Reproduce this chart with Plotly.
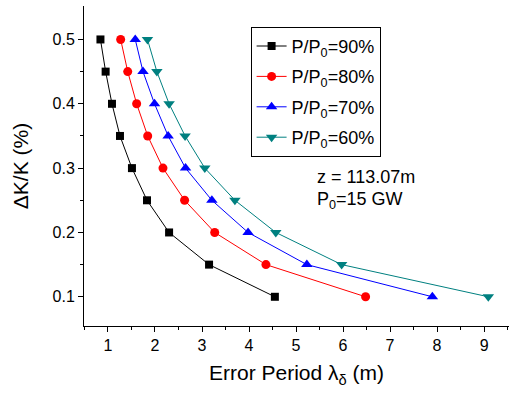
import plotly.graph_objects as go

dk = [0.5, 0.45, 0.4, 0.35, 0.3, 0.25, 0.2, 0.15, 0.1]
p90 = [0.84, 0.95, 1.085, 1.255, 1.51, 1.83, 2.30, 3.15, 4.55]
p80 = [1.27, 1.42, 1.61, 1.845, 2.17, 2.63, 3.27, 4.36, 6.48]
p70 = [1.58, 1.745, 1.99, 2.28, 2.65, 3.21, 3.98, 5.23, 7.90]
p60 = [1.84, 2.04, 2.30, 2.64, 3.06, 3.70, 4.57, 5.97, 9.09]

names = ["P/P<sub>0</sub>=90%", "P/P<sub>0</sub>=80%", "P/P<sub>0</sub>=70%", "P/P<sub>0</sub>=60%"]
series = [p90, p80, p70, p60]
colors = ["#000000", "#FF0000", "#0000FF", "#008080"]
symbols = ["square", "circle", "triangle-up", "triangle-down"]
msizes = [8, 9, 10, 10]

FONT = "Liberation Sans, Arial, sans-serif"

fig = go.Figure()
for i, (nm, xs) in enumerate(zip(names, series)):
    fig.add_trace(go.Scatter(
        x=xs, y=dk, mode="lines+markers", name=nm,
        legendgroup=f"g{i}",
        line=dict(color=colors[i], width=1),
        marker=dict(symbol=symbols[i], size=msizes[i], color=colors[i], line=dict(width=0)),
    ))

fig.update_layout(
    width=514, height=405,
    margin=dict(l=84, r=5, t=6, b=79),
    paper_bgcolor="white", plot_bgcolor="white",
    font=dict(family=FONT, color="black", size=16),
    showlegend=True,
    legend=dict(
        x=0.392, y=0.935, xanchor="left", yanchor="top",
        bordercolor="black", borderwidth=1, bgcolor="white",
        font=dict(family=FONT, size=18, color="black"),
        tracegroupgap=4, traceorder="grouped",
        itemwidth=30,
    ),
    xaxis=dict(
        range=[0.49, 9.53], tickvals=[1, 2, 3, 4, 5, 6, 7, 8, 9],
        showgrid=False, zeroline=False, showline=True, linecolor="black", linewidth=1,
        ticks="outside", ticklen=5, tickcolor="black", tickwidth=1,
        minor=dict(tickvals=[0.5, 1.5, 2.5, 3.5, 4.5, 5.5, 6.5, 7.5, 8.5, 9.5], ticks="outside", ticklen=3, tickcolor="black"),
        tickfont=dict(size=16),
        ticklabelstandoff=0,
        title=dict(text="Error Period λ<sub>δ</sub> (m)", font=dict(size=21), standoff=12),
    ),
    yaxis=dict(
        range=[0.0546, 0.552], tickvals=[0.1, 0.2, 0.3, 0.4, 0.5],
        ticktext=["0.1", "0.2", "0.3", "0.4", "0.5"],
        showgrid=False, zeroline=False, showline=True, linecolor="black", linewidth=1,
        ticks="outside", ticklen=5, tickcolor="black", tickwidth=1,
        minor=dict(tickvals=[0.15, 0.25, 0.35, 0.45], ticks="outside", ticklen=3, tickcolor="black"),
        tickfont=dict(size=16),
        title=dict(text="ΔK/K (%)", font=dict(size=21), standoff=18),
    ),
    annotations=[
        dict(text="z = 113.07m", x=0.543, y=0.465, xref="paper", yref="paper",
             xanchor="left", yanchor="middle", showarrow=False, font=dict(size=18)),
        dict(text="P<sub>0</sub>=15 GW", x=0.543, y=0.393, xref="paper", yref="paper",
             xanchor="left", yanchor="middle", showarrow=False, font=dict(size=18)),
    ],
)

fig.write_html("out.html")
